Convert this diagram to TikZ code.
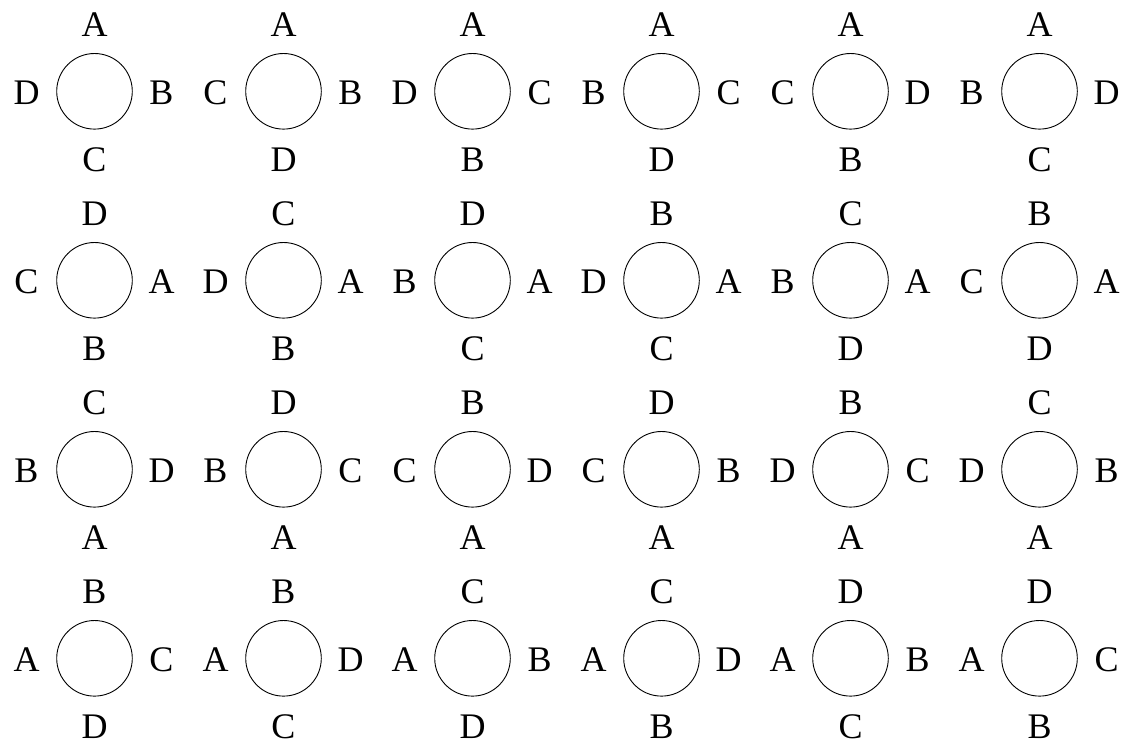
\documentclass[tikz,border=0pt]{standalone}
\usepackage{fontspec}
\setmainfont{Liberation Serif}
\begin{document}
\begin{tikzpicture}[x=1pt,y=-1pt,
  ring/.style={circle,draw,line width=0.9pt,minimum size=75.6pt,inner sep=0pt},
  lab/.style={font=\fontsize{36}{42}\selectfont,inner sep=0pt}]
\useasboundingbox (0,0) rectangle (1126,742);
\foreach \ci/\ri/\xa/\xb/\xc/\xd in {
  0/0/A/D/B/C, 1/0/A/C/B/D, 2/0/A/D/C/B, 3/0/A/B/C/D, 4/0/A/C/D/B, 5/0/A/B/D/C,
  0/1/D/C/A/B, 1/1/C/D/A/B, 2/1/D/B/A/C, 3/1/B/D/A/C, 4/1/C/B/A/D, 5/1/B/C/A/D,
  0/2/C/B/D/A, 1/2/D/B/C/A, 2/2/B/C/D/A, 3/2/D/C/B/A, 4/2/B/D/C/A, 5/2/C/D/B/A,
  0/3/B/A/C/D, 1/3/B/A/D/C, 2/3/C/A/B/D, 3/3/C/A/D/B, 4/3/D/A/B/C, 5/3/D/A/C/B}{
  \pgfmathsetmacro{\cx}{94.5+189*\ci}
  \pgfmathsetmacro{\cy}{91.3+189*\ri}
  \node[ring] (c\ci\ri) at (\cx,\cy) {};
  \node[lab] (top\ci\ri) at (\cx,\cy-67) {\xa};
  \node[lab] (left\ci\ri) at (\cx-68,\cy+1.5) {\xb};
  \node[lab] (right\ci\ri) at (\cx+67,\cy+1.5) {\xc};
  \node[lab] (bot\ci\ri) at (\cx,\cy+68) {\xd};
}
\end{tikzpicture}
\end{document}
